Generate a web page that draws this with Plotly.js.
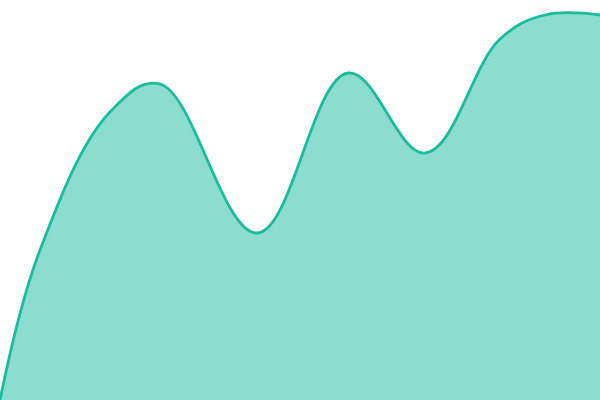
<!DOCTYPE html>
<html>
<head>
<meta charset="utf-8">
<script src="https://cdn.plot.ly/plotly-3.0.1.min.js"></script>
<style>
  html, body { margin: 0; padding: 0; background: #ffffff; }
  #chart { width: 600px; height: 400px; }
</style>
</head>
<body>
<div id="chart"></div>
<script>
// sample positions and values
const steps = [0, 40, 110, 160, 257, 348, 425, 500, 545, 600];
const values = [0, 150, 288, 316, 167, 327, 247, 361, 385, 385];

const trace = {
  type: 'scatter',
  mode: 'lines',
  x: steps,
  y: values,
  fill: 'tozeroy',
  fillcolor: 'rgba(26,188,156,0.5)',
  line: { color: '#1abc9c', width: 2.8, shape: 'spline', smoothing: 1.1 },
  hoverinfo: 'skip',
};

const layout = {
  width: 600,
  height: 400,
  margin: { l: 0, r: 0, t: 0, b: 0 },
  paper_bgcolor: '#ffffff',
  plot_bgcolor: '#ffffff',
  showlegend: false,
  xaxis: { range: [0, 600], visible: false, fixedrange: true },
  yaxis: { range: [0, 400], visible: false, fixedrange: true },
};

Plotly.newPlot('chart', [trace], layout, { staticPlot: true, displayModeBar: false });
</script>
</body>
</html>
